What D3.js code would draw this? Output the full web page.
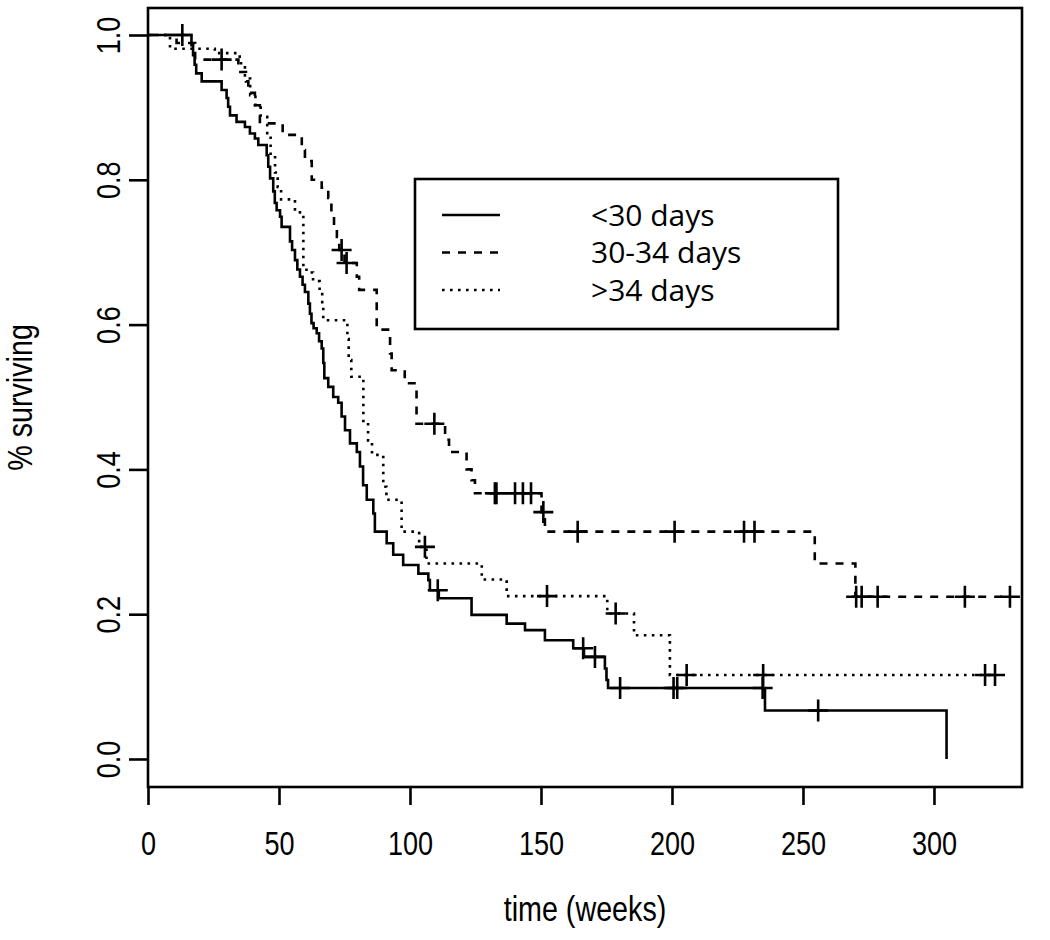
<!DOCTYPE html>
<html>
<head>
<meta charset="utf-8">
<script src="https://cdn.jsdelivr.net/npm/d3@7"></script>
<style>
  html, body { margin: 0; padding: 0; background: #fff; }
  svg { display: block; }
</style>
</head>
<body>
<svg id="chart" width="1050" height="940"></svg>
<script>
// ---------------- data ----------------
const xTicks = [0, 50, 100, 150, 200, 250, 300];
const yTicks = [0.0, 0.2, 0.4, 0.6, 0.8, 1.0];
const xTitle = "time (weeks)";
const yTitle = "% surviving";
const legendLabels = ["<30 days", "30-34 days", ">34 days"];

// event times (weeks) and survival level after each drop
const lt30Events = [[16.6,0.986],[17.2,0.972],[17.8,0.959],[18.4,0.947],[20.5,0.936],[28.1,0.924],[30.0,0.913],[30.6,0.901],[31.3,0.889],[33.8,0.880],[37.0,0.873],[38.9,0.864],[40.8,0.857],[42.1,0.848],[45.3,0.834],[45.9,0.818],[46.6,0.802],[47.8,0.784],[48.4,0.768],[49.1,0.758],[50.4,0.749],[51.0,0.735],[54.2,0.715],[55.0,0.703],[56.1,0.689],[57.0,0.676],[58.0,0.666],[59.0,0.655],[59.9,0.645],[61.2,0.629],[61.8,0.615],[62.4,0.602],[63.2,0.595],[64.4,0.588],[65.3,0.577],[66.3,0.567],[66.9,0.547],[67.3,0.526],[68.8,0.514],[70.7,0.500],[72.6,0.492],[73.9,0.473],[75.2,0.454],[77.1,0.436],[79.7,0.424],[80.9,0.404],[82.1,0.378],[83.5,0.358],[86.0,0.339],[86.6,0.314],[91.1,0.298],[93.6,0.282],[97.4,0.268],[103.2,0.256],[107.0,0.247],[107.6,0.233],[111.0,0.222],[123.5,0.199],[136.9,0.187],[143.9,0.178],[151.5,0.164],[162.3,0.153],[166.4,0.141],[174.4,0.125],[175.0,0.109],[175.6,0.098],[235.5,0.067],[304.8,0.0]];
const lt30Censor = [13.1, 110.6, 166.1, 170.6, 180.2, 200.6, 202.0, 234.6, 255.8];

const mid3034Events = [[10.9,0.989],[18.0,0.966],[34.5,0.949],[37.4,0.936],[38.3,0.920],[40.8,0.903],[42.7,0.878],[51.4,0.862],[58.7,0.841],[59.9,0.826],[62.5,0.800],[66.3,0.789],[68.8,0.775],[70.0,0.755],[71.0,0.735],[72.1,0.721],[73.0,0.703],[75.0,0.685],[79.7,0.666],[80.6,0.648],[87.3,0.593],[92.4,0.560],[93.0,0.537],[98.0,0.525],[99.0,0.519],[102.5,0.463],[113.4,0.441],[114.9,0.424],[121.6,0.400],[123.5,0.385],[124.8,0.367],[150.2,0.341],[151.5,0.314],[254.5,0.270],[270.0,0.224]];
const mid3034Censor = [28.1, 73.9, 75.8, 109.3, 132.4, 133.0, 140.1, 143.1, 146.2, 150.9, 164.0, 201.0, 227.5, 231.5, 270.3, 272.4, 278.5, 311.8, 329.0];

const gt34Events = [[8.4,0.981],[25.5,0.975],[35.0,0.961],[37.0,0.940],[39.0,0.917],[41.0,0.903],[43.0,0.887],[45.5,0.860],[46.8,0.834],[48.5,0.810],[49.5,0.790],[50.8,0.773],[56.1,0.755],[59.3,0.680],[60.5,0.672],[63.0,0.660],[65.5,0.645],[66.5,0.624],[66.9,0.606],[76.1,0.580],[76.6,0.551],[77.6,0.528],[82.2,0.465],[84.0,0.440],[85.5,0.420],[89.8,0.376],[91.0,0.358],[96.8,0.314],[103.5,0.293],[106.3,0.270],[127.4,0.248],[136.9,0.225],[175.3,0.201],[185.5,0.171],[199.2,0.116]];
const gt34Censor = [105.7, 152.3, 178.5, 205.6, 234.8, 319.5, 323.3];

// ---------------- layout ----------------
const svg = d3.select("#chart");
const plot = {left: 148, right: 1022, top: 8, bottom: 787};
const x = d3.scaleLinear().domain([0, 333.6]).range([plot.left, plot.right]);
const y = d3.scaleLinear().domain([-0.0387, 1.0373]).range([plot.bottom, plot.top]);

const axisFont = "'Liberation Sans', Arial, sans-serif";
const narrow = "scale(0.82,1)";
const legendFont = "'Open Sans', 'Noto Sans', sans-serif";
const LW = 2.6;

svg.append("rect").attr("width", 1050).attr("height", 940).attr("fill", "#fff");

// plot box
svg.append("rect")
  .attr("x", plot.left).attr("y", plot.top)
  .attr("width", plot.right - plot.left).attr("height", plot.bottom - plot.top)
  .attr("fill", "none").attr("stroke", "#000").attr("stroke-width", LW);

// x axis
const gx = svg.append("g").attr("transform", `translate(0,${plot.bottom})`)
  .call(d3.axisBottom(x).tickValues(xTicks).tickSize(18).tickFormat(d3.format("d")));
gx.select(".domain").remove();
gx.selectAll(".tick line").attr("stroke", "#000").attr("stroke-width", LW);
gx.selectAll(".tick text").attr("y", 68).attr("dy", null)
  .attr("transform", narrow)
  .attr("font-family", axisFont).attr("font-size", 33).attr("fill", "#000");

// y axis
const gy = svg.append("g").attr("transform", `translate(${plot.left},0)`)
  .call(d3.axisLeft(y).tickValues(yTicks).tickSize(19).tickFormat(d3.format(".1f")));
gy.select(".domain").remove();
gy.selectAll(".tick line").attr("stroke", "#000").attr("stroke-width", LW);
gy.selectAll(".tick text")
  .attr("x", 0).attr("y", -28.5).attr("dy", null)
  .attr("transform", "rotate(-90) " + narrow)
  .attr("text-anchor", "middle")
  .attr("font-family", axisFont).attr("font-size", 33).attr("fill", "#000");

// axis titles
svg.append("text").attr("transform", `translate(${(plot.left + plot.right) / 2},921) ${narrow}`)
  .attr("text-anchor", "middle").attr("font-family", axisFont).attr("font-size", 35)
  .text(xTitle);
svg.append("text").attr("transform", `translate(32,${(plot.top + plot.bottom) / 2}) rotate(-90) ${narrow}`)
  .attr("text-anchor", "middle").attr("font-family", axisFont).attr("font-size", 35)
  .text(yTitle);

// ---------------- curves ----------------
function levelAt(events, t) {
  let s = 1.0;
  for (const [et, es] of events) { if (et <= t) s = es; else break; }
  return s;
}
const line = d3.line().x(d => x(d[0])).y(d => y(d[1])).curve(d3.curveStepAfter);

const series = [
  {events: lt30Events, censor: lt30Censor, dash: null},
  {events: mid3034Events, censor: mid3034Censor, dash: "8,8"},
  {events: gt34Events, censor: gt34Censor, dash: "2.6,5.4"}
];

series.forEach(sr => {
  const pts = [[0, 1.0], ...sr.events];
  const lastEvent = sr.events[sr.events.length - 1];
  const tEnd = Math.max(lastEvent[0], d3.max(sr.censor));
  if (tEnd > lastEvent[0]) pts.push([tEnd, lastEvent[1]]);
  svg.append("path").datum(pts)
    .attr("d", line)
    .attr("fill", "none").attr("stroke", "#000").attr("stroke-width", LW)
    .attr("stroke-dasharray", sr.dash);
  svg.append("g").selectAll("path").data(sr.censor).join("path")
    .attr("d", t => {
      const cx = x(t), cy = y(levelAt(sr.events, t));
      return `M${cx - 10},${cy}H${cx + 10}M${cx},${cy - 11}V${cy + 11}`;
    })
    .attr("fill", "none").attr("stroke", "#000").attr("stroke-width", LW);
});

// ---------------- legend ----------------
const leg = svg.append("g");
leg.append("rect").attr("x", 415).attr("y", 179).attr("width", 423).attr("height", 150)
  .attr("fill", "#fff").attr("stroke", "#000").attr("stroke-width", LW);
const legY = [215, 252.5, 290];
legendLabels.forEach((lab, i) => {
  leg.append("line").attr("x1", 442).attr("x2", 500).attr("y1", legY[i]).attr("y2", legY[i])
    .attr("stroke", "#000").attr("stroke-width", LW)
    .attr("stroke-dasharray", series[i].dash);
  leg.append("text").attr("x", 591).attr("y", legY[i] + 10.5)
    .attr("font-family", legendFont).attr("font-size", 30).attr("fill", "#000")
    .text(lab);
});
</script>
</body>
</html>
